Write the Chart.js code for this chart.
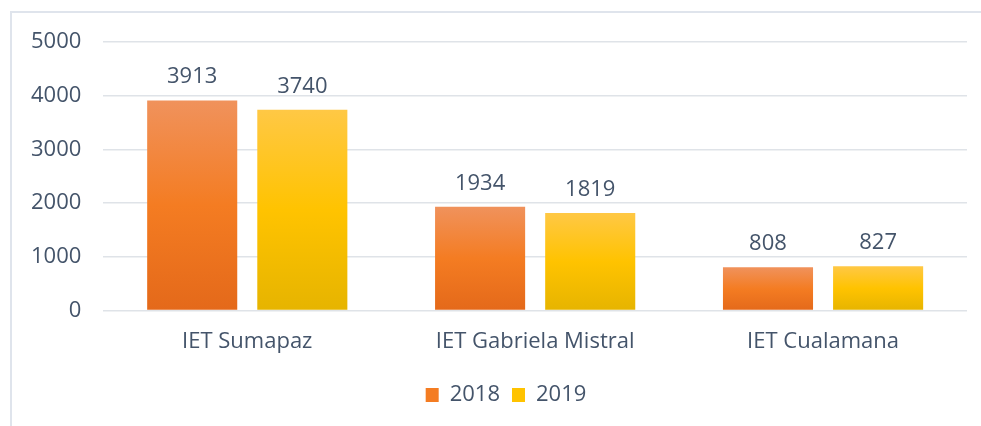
<!DOCTYPE html>
<html>
<head>
<meta charset="utf-8">
<script src="https://cdn.jsdelivr.net/npm/chart.js@4"></script>
<style>
  html, body { margin: 0; padding: 0; background: #fff; }
  #frame { position: absolute; left: 10px; top: 11px; width: 990px; height: 430px; border: 2px solid #dfe4ec; }
  #wrap { position: absolute; left: 0; top: 0; width: 981px; height: 426px; }
</style>
</head>
<body>
<div id="frame"></div>
<div id="wrap"><canvas id="myChart" width="981" height="426"></canvas></div>
<script>
const categories = ['IET Sumapaz', 'IET Gabriela Mistral', 'IET Cualamana'];
const values2018 = [3913, 1934, 808];
const values2019 = [3740, 1819, 827];
const seriesNames = ['2018', '2019'];
const yTicks = [0, 1000, 2000, 3000, 4000, 5000];

const textColor = '#44546a';
const fontFamily = '"Open Sans", sans-serif';
const fontSize = 22;

// degradado vertical por barra, como en Excel
function barGradient(colors) {
    return function(ctx) {
        const chart = ctx.chart;
        if (!chart.chartArea || ctx.type !== 'data') return colors[1];
        const y = chart.scales.y;
        const top = y.getPixelForValue(ctx.raw);
        const base = y.getPixelForValue(0);
        if (!isFinite(top) || base - top < 1) return colors[1];
        const g = chart.ctx.createLinearGradient(0, top, 0, base);
        g.addColorStop(0, colors[0]);
        g.addColorStop(0.5, colors[1]);
        g.addColorStop(1, colors[2]);
        return g;
    };
}

// etiquetas de valor encima de cada barra
const valueLabels = {
    id: 'valueLabels',
    afterLayout(chart) {
        // la leyenda del original no está centrada en el lienzo
        chart.legend.left += 18;
        chart.legend.right += 18;
    },
    afterDatasetsDraw(chart) {
        const ctx = chart.ctx;
        ctx.save();
        ctx.font = fontSize + 'px ' + fontFamily;
        ctx.fillStyle = textColor;
        ctx.textAlign = 'center';
        ctx.textBaseline = 'alphabetic';
        chart.data.datasets.forEach((ds, i) => {
            chart.getDatasetMeta(i).data.forEach((bar, j) => {
                ctx.fillText(ds.data[j], bar.x, bar.y - 17);
            });
        });
        ctx.restore();
    }
};

new Chart(document.getElementById('myChart'), {
    type: 'bar',
    data: {
        labels: categories,
        datasets: [{
            label: seriesNames[0],
            data: values2018,
            backgroundColor: barGradient(['#f0925c', '#f47c22', '#e4691a'])
        }, {
            label: seriesNames[1],
            data: values2019,
            backgroundColor: barGradient(['#ffc845', '#ffc300', '#e6b400'])
        }]
    },
    options: {
        responsive: false,
        animation: false,
        layout: { padding: { left: 9, right: 14, top: 42, bottom: 10 } },
        datasets: { bar: { barPercentage: 0.818, categoryPercentage: 0.765 } },
        plugins: {
            legend: {
                position: 'bottom',
                labels: {
                    color: textColor,
                    font: { family: fontFamily, size: fontSize },
                    boxWidth: 13,
                    boxHeight: 14,
                    padding: 12,
                    generateLabels(chart) {
                        const fills = ['#f47c22', '#ffc300'];
                        return chart.data.datasets.map((ds, i) => ({
                            text: ds.label,
                            fillStyle: fills[i],
                            strokeStyle: fills[i],
                            lineWidth: 0,
                            datasetIndex: i,
                            fontColor: textColor
                        }));
                    }
                }
            },
            tooltip: { enabled: false }
        },
        scales: {
            x: {
                grid: { display: false },
                border: { display: false },
                ticks: { color: textColor, font: { family: fontFamily, size: fontSize }, padding: 10 },
                afterFit(axis) { axis.height += 7; }
            },
            y: {
                min: 0,
                max: 5000,
                afterBuildTicks(axis) { axis.ticks = yTicks.map(v => ({ value: v })); },
                grid: { color: '#dfe3e8', lineWidth: 1.5, drawTicks: false },
                border: { display: false },
                ticks: {
                    color: textColor,
                    font: { family: fontFamily, size: fontSize },
                    padding: 22,
                    callback: v => String(v)
                }
            }
        }
    },
    plugins: [valueLabels]
});
</script>
</body>
</html>
